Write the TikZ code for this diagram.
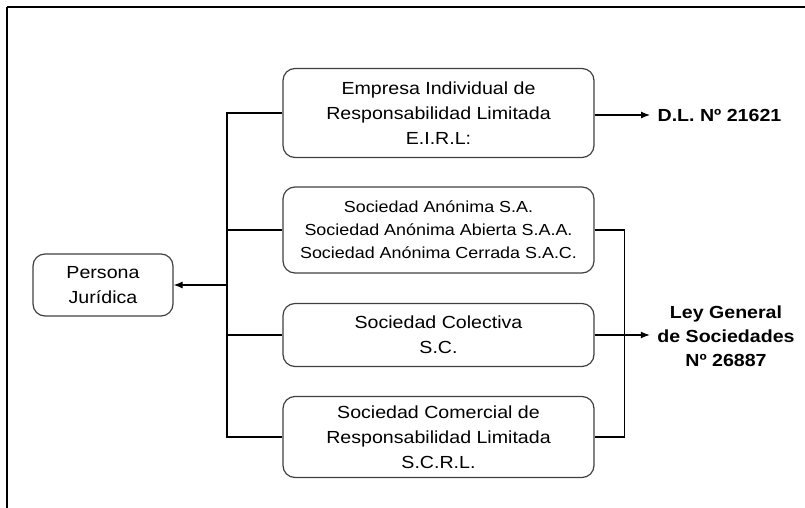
\documentclass[tikz,border=0pt]{standalone}
\usepackage{fontspec}
\setmainfont{Liberation Sans}[FakeStretch=1.12]
\usetikzlibrary{arrows.meta}

\begin{document}
\begin{tikzpicture}
  [x=1pt,y=-1pt,line width=1.2pt,
   every node/.style={font=\fontsize{17.5}{25}\selectfont,align=center},
   caja/.style={draw=black!75,rounded corners=12pt,minimum width=311pt,inner sep=0pt},
   ley/.style={font=\fontsize{17.5}{24}\selectfont\bfseries,inner sep=0pt,inner xsep=7pt},
   flecha/.style={-{Latex[length=9pt,width=7pt]}}]
  \useasboundingbox (0,0) rectangle (805,508);
  \draw[line width=2pt] (805,7) -- (7,7);
  \draw (7,7) -- (7,508);
  \node[caja,minimum width=140pt,minimum height=62pt] (npj) at (103,285) {Persona\\Jurídica};
  \node[caja,minimum height=89pt] (neirl) at (438.5,113) {Empresa Individual de\\Responsabilidad Limitada\\E.I.R.L:};
  \node[caja,minimum height=86pt,font=\fontsize{16}{23}\selectfont] (nsa) at (438.5,230)
    {Sociedad Anónima S.A.\\Sociedad Anónima Abierta S.A.A.\\Sociedad Anónima Cerrada S.A.C.};
  \node[caja,minimum height=63pt] (nsc) at (438.5,335) {Sociedad Colectiva\\S.C.};
  \node[caja,minimum height=81pt] (nscrl) at (438.5,437) {Sociedad Comercial de\\Responsabilidad Limitada\\S.C.R.L.};
  \node[ley,anchor=west] (ndl) at (650,115) {D.L. Nº 21621};
  \node[ley] (nley) at (726,336) {Ley General\\de Sociedades\\Nº 26887};
  \coordinate (bus) at (227,285);
  \foreach \n in {neirl,nsa,nsc,nscrl}
    \draw (\n.west) -| (bus);
  \draw[flecha] (bus) -- (npj);
  \draw[flecha] (neirl.east |- ndl) -- (ndl);
  \draw (nsa.east) -- ++(30,0) |- (nscrl.east);
  \draw[flecha] (nsc.east) -- (nsc.east -| nley.west);
\end{tikzpicture}
\end{document}
